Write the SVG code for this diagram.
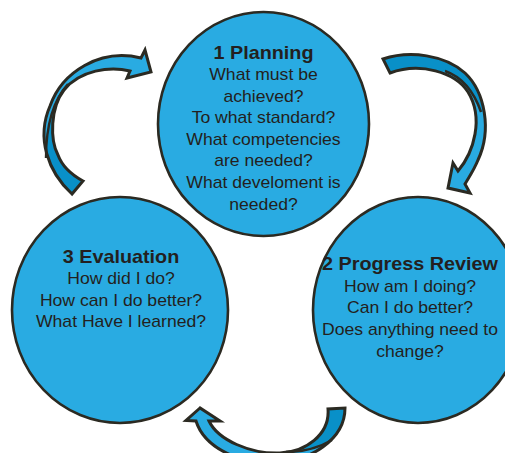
<svg xmlns="http://www.w3.org/2000/svg" width="505" height="453" viewBox="0 0 505 453">
  <style>
    .arrow { fill: #29abe2; stroke: none; }
    .outline { fill: none; stroke: #2b2a22; stroke-width: 3; stroke-linejoin: miter; }
    .shade { fill: #0990c8; }
    .twist { fill: none; stroke: #2b2a22; stroke-width: 2.4; }
    .stage { fill: #29abe2; stroke: #2b2a22; stroke-width: 2.6; }
    .title { font-family: "Liberation Sans", Arial, sans-serif; font-weight: bold; font-size: 18px; fill: #231f20; text-anchor: middle; }
    .line { font-family: "Liberation Sans", Arial, sans-serif; font-size: 16px; fill: #231f20; text-anchor: middle; }
  </style>
  <defs>
    <path id="arrowA" d="M72,194 C48,172 36,138 50,106 C62,72 100,48 141,58 L145,50 L151,72 L127,78 L130,71 C110,66 80,70 64,90 C50,108 50,140 58,155 C62,166 72,175 83,181 Z"/>
    <path id="arrowB" d="M383,59 C410,50 445,55 465,73 C485,92 492,130 478,160 C474,170 469,177 465,184 L470,193 L448,188 L453,163 L458,171 C474,152 484,118 468,92 C455,72 420,62 390,73 Z"/>
    <path id="arrowC" d="M200,408 L186,420.5 L196,421 C205,450 245,465 275,463 C310,461 345,440 345,408 L328,409 C330,435 305,452 280,453 C250,454 218,440 209,421 L220,421 Z"/>
    <clipPath id="clipA"><use href="#arrowA"/></clipPath>
    <clipPath id="clipB"><use href="#arrowB"/></clipPath>
    <clipPath id="clipC"><use href="#arrowC"/></clipPath>
  </defs>

  <!-- cycle arrows: light front face, darker back face where the ribbon turns -->
  <g id="connectors">
    <g id="arrow-evaluation-planning">
      <use href="#arrowA" class="arrow"/>
      <path class="shade" clip-path="url(#clipA)" d="M68,84 Q46,108 46,158 L30,210 L110,210 L110,84 Z"/>
      <path class="twist" d="M68,84 Q46,108 46,158"/>
      <use href="#arrowA" class="outline"/>
    </g>
    <g id="arrow-planning-review">
      <use href="#arrowB" class="arrow"/>
      <path class="shade" clip-path="url(#clipB)" d="M445,71 Q470,80 481,112 L500,112 L500,30 L370,30 L370,90 Z"/>
      <path class="twist" d="M445,71 Q470,80 481,112"/>
      <use href="#arrowB" class="outline"/>
    </g>
    <g id="arrow-review-evaluation">
      <use href="#arrowC" class="arrow"/>
      <path class="shade" clip-path="url(#clipC)" d="M286,452 Q312,452 332,440 L360,440 L360,380 L270,380 L270,452 Z"/>
      <path class="twist" d="M286,452 Q312,452 332,440"/>
      <use href="#arrowC" class="outline"/>
    </g>
  </g>

  <g id="planning">
    <ellipse class="stage" cx="263.5" cy="124" rx="105.5" ry="112"/>
    <g transform="matrix(1.1 0 0 1 -26.35 0)">
      <text class="title" x="263.5" y="59">1 Planning</text>
      <text class="line" x="263.5" y="80">What must be</text>
      <text class="line" x="263.5" y="101.6">achieved?</text>
      <text class="line" x="263.5" y="123.2">To what standard?</text>
      <text class="line" x="263.5" y="144.8">What competencies</text>
      <text class="line" x="263.5" y="166.4">are needed?</text>
      <text class="line" x="263.5" y="188">What develoment is</text>
      <text class="line" x="263.5" y="209.6">needed?</text>
    </g>
  </g>

  <g id="progress-review">
    <ellipse class="stage" cx="418" cy="310" rx="105" ry="113"/>
    <g transform="matrix(1.1 0 0 1 -41 0)">
      <text class="title" x="410" y="270">2 Progress Review</text>
      <text class="line" x="410" y="291.7">How am I doing?</text>
      <text class="line" x="410" y="313.3">Can I do better?</text>
      <text class="line" x="410" y="335">Does anything need to</text>
      <text class="line" x="410" y="356.7">change?</text>
    </g>
  </g>

  <g id="evaluation">
    <ellipse class="stage" cx="120" cy="310" rx="108" ry="113"/>
    <g transform="matrix(1.1 0 0 1 -12.1 0)">
      <text class="title" x="121" y="262.7">3 Evaluation</text>
      <text class="line" x="121" y="284">How did I do?</text>
      <text class="line" x="121" y="305.7">How can I do better?</text>
      <text class="line" x="121" y="327.3">What Have I learned?</text>
    </g>
  </g>
</svg>
